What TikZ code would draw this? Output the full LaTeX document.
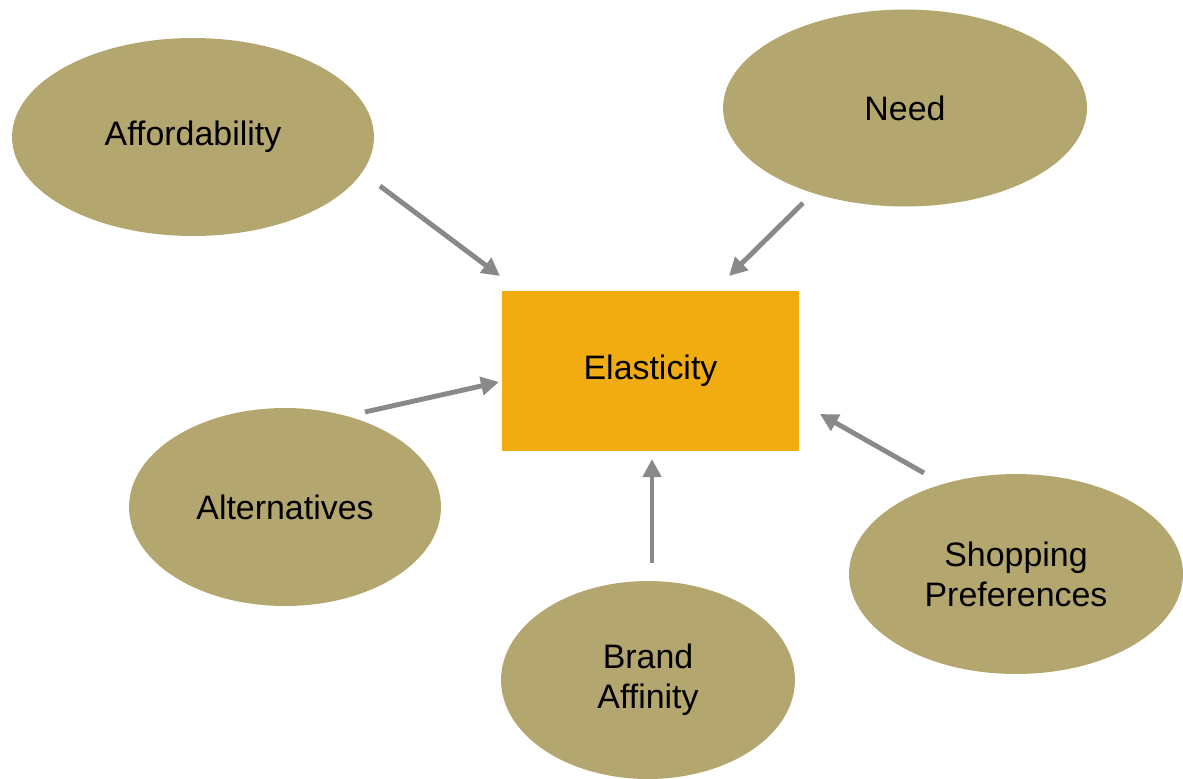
\documentclass[tikz,border=0pt]{standalone}
\usepackage{fontspec}
\setmainfont{Liberation Sans}
\usepackage{xcolor}
\usepackage{tikz}
\usetikzlibrary{arrows.meta,shapes.geometric}
\definecolor{factorolive}{HTML}{B3A66E}
\definecolor{coreamber}{HTML}{F1AC12}
\definecolor{arrowgray}{HTML}{898989}
\tikzset{
  factor/.style={
    ellipse,
    fill=factorolive,
    align=center,
    inner sep=0pt,
    font=\fontsize{19.3}{22.7}\selectfont
  },
  core/.style={
    rectangle,
    fill=coreamber,
    align=center,
    inner sep=0pt,
    minimum width=5.94cm,
    minimum height=3.22cm,
    font=\fontsize{19.3}{22.7}\selectfont
  },
  pusharrow/.style={
    -{Triangle[length=3.6mm,width=3.6mm]},
    line width=2.8pt,
    draw=arrowgray
  }
}

\begin{document}
\begin{tikzpicture}[x=0.02cm,y=-0.02cm]
    \useasboundingbox (0,0) rectangle (1183,778);

    \node[core] (ela) at (650.5,371) {Elasticity};

    \node[factor, minimum width=7.24cm, minimum height=3.96cm] (aff) at (193,137) {Affordability};
    \node[factor, minimum width=7.28cm, minimum height=3.94cm] (need) at (905,108) {Need};
    \node[factor, minimum width=6.24cm, minimum height=3.96cm] (alt) at (285,507) {Alternatives};
    \node[factor, minimum width=5.88cm, minimum height=3.96cm] (brand) at (648,680) {Brand\\Affinity};
    \node[factor, minimum width=6.68cm, minimum height=4.0cm] (shop) at (1016,574) {Shopping\\Preferences};

    % arrow ends float between the shapes
    \coordinate (aff-out) at (380,186);
    \coordinate (aff-in) at (500,276);
    \coordinate (need-out) at (803,203);
    \coordinate (need-in) at (729,276);
    \coordinate (alt-out) at (365,412);
    \coordinate (alt-in) at (499,382);
    \coordinate (brand-out) at (652,563);
    \coordinate (brand-in) at (652,459);
    \coordinate (shop-out) at (924,473);
    \coordinate (shop-in) at (820,414);

    \draw[pusharrow] (aff-out) -- (aff-in);
    \draw[pusharrow] (need-out) -- (need-in);
    \draw[pusharrow] (alt-out) -- (alt-in);
    \draw[pusharrow] (brand-out) -- (brand-in);
    \draw[pusharrow] (shop-out) -- (shop-in);
\end{tikzpicture}
\end{document}
